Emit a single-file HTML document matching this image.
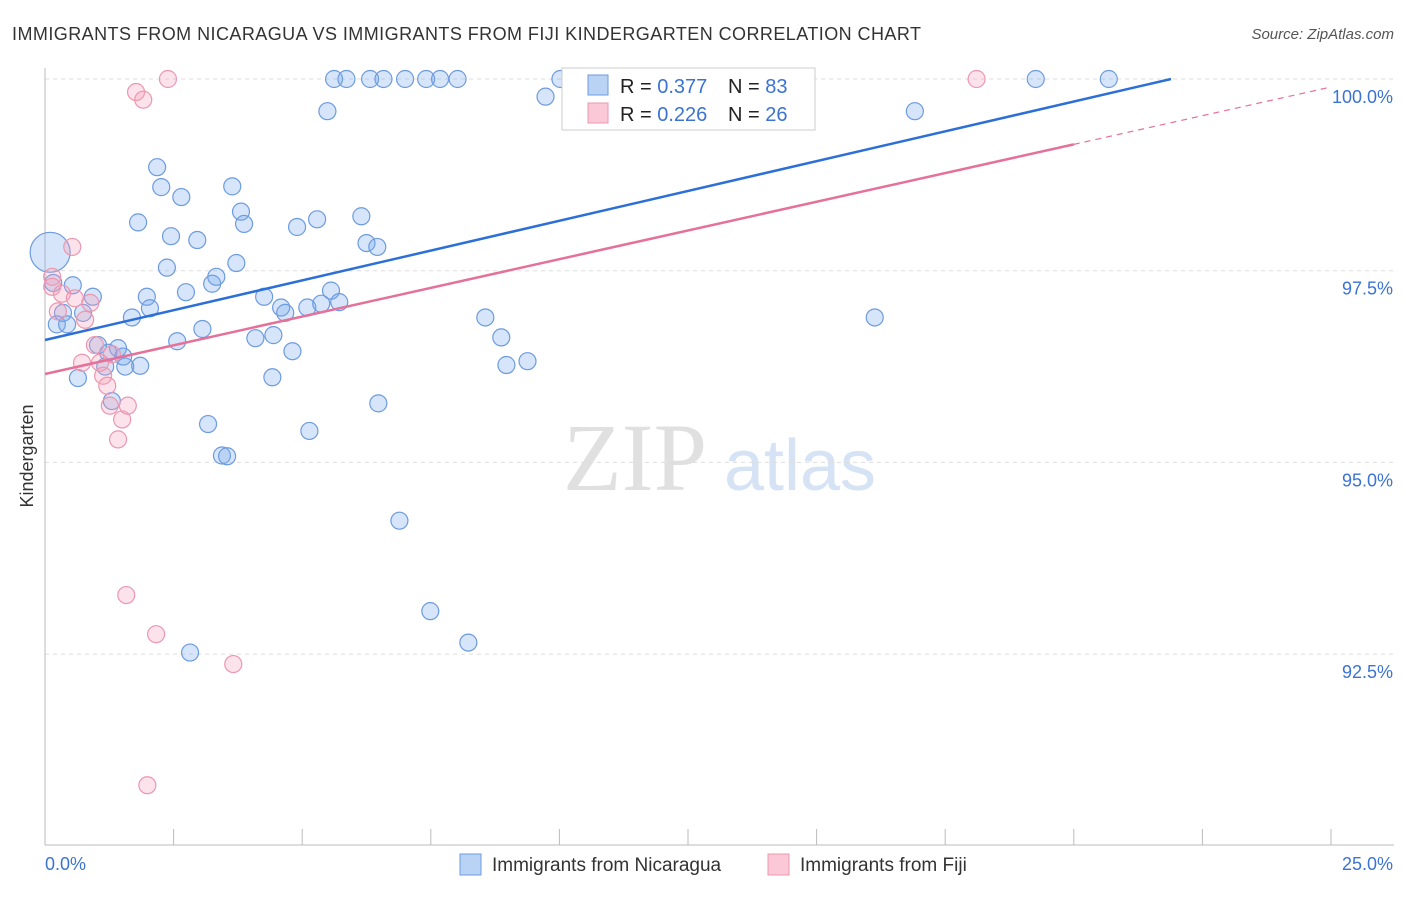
<!DOCTYPE html>
<html><head><meta charset="utf-8"><style>
body{margin:0;background:#fff;font-family:"Liberation Sans",sans-serif;}
svg text{font-family:"Liberation Sans",sans-serif;}
</style></head><body>
<svg id="c" width="1406" height="892" xmlns="http://www.w3.org/2000/svg">
<text x="12" y="40" font-size="18" fill="#333" textLength="909">IMMIGRANTS FROM NICARAGUA VS IMMIGRANTS FROM FIJI KINDERGARTEN CORRELATION CHART</text>
<text x="1394" y="39" font-size="15" fill="#555" text-anchor="end" font-style="italic">Source: ZipAtlas.com</text>
<text x="33" y="456" font-size="18" fill="#333" text-anchor="middle" transform="rotate(-90 33 456)">Kindergarten</text>
<g><text x="635" y="490" font-size="96" fill="#e0e0e0" text-anchor="middle" font-family="Liberation Serif" style="font-family:'Liberation Serif',serif">ZIP</text><text x="800" y="490" font-size="72" fill="#d6e3f5" text-anchor="middle">atlas</text></g>
<g id="grid"></g><g id="axes"></g><g id="pts"></g><g id="lines"></g>
<g>
<rect x="562" y="68" width="253" height="62" fill="#fff" stroke="#ccc"/>
<rect x="588" y="75" width="20" height="20" fill="#b9d3f5" stroke="#6d9be0"/>
<rect x="588" y="103" width="20" height="20" fill="#fac8d6" stroke="#ec97b0"/>
<text x="620" y="93" font-size="20" fill="#222">R = <tspan fill="#3b73d3">0.377</tspan><tspan x="728">N = </tspan><tspan fill="#3b73d3">83</tspan></text>
<text x="620" y="121" font-size="20" fill="#222">R = <tspan fill="#3b73d3">0.226</tspan><tspan x="728">N = </tspan><tspan fill="#3b73d3">26</tspan></text>
</g>
<g>
<rect x="460" y="854" width="21" height="21" fill="#b9d3f5" stroke="#6d9be0"/>
<text x="492" y="871" font-size="19" fill="#333">Immigrants from Nicaragua</text>
<rect x="768" y="854" width="21" height="21" fill="#fac8d6" stroke="#ec97b0"/>
<text x="800" y="871" font-size="19" fill="#333">Immigrants from Fiji</text>
</g>
</svg>
<script>
const yTicks=[100,97.5,95,92.5];
const yTickLabels=["100.0%","97.5%","95.0%","92.5%"];
const xTickLabels=["0.0%","25.0%"];
const blueX=[0.1,0.23,0.43,0.54,0.16,0.35,0.64,0.74,0.93,1.03,1.23,1.42,1.30,1.56,1.52,1.17,1.85,1.69,1.81,1.98,2.04,2.18,2.26,2.37,2.45,2.65,2.57,2.74,2.96,3.06,3.25,3.33,3.17,3.44,3.54,3.64,3.72,3.81,3.87,4.09,4.26,4.44,4.42,4.59,4.67,4.81,4.90,5.14,5.10,5.29,5.37,5.56,5.72,5.49,5.62,5.86,6.32,6.58,7.00,7.41,7.68,8.02,6.15,6.25,6.46,6.48,6.89,7.49,8.23,8.56,8.87,8.97,9.38,9.73,10.02,16.13,16.91,19.26,20.68,2.82,10.76,11.96];
const blueY=[97.74,96.80,96.80,97.31,97.34,96.95,96.10,96.95,97.16,96.53,96.43,96.49,95.80,96.25,96.38,96.25,96.26,96.89,98.13,97.16,97.01,98.85,98.59,97.54,97.95,98.46,96.58,97.22,97.90,96.74,97.33,97.42,95.50,95.09,95.08,98.60,97.60,98.27,98.11,96.62,97.16,96.66,96.11,97.02,96.95,96.45,98.07,95.41,97.02,98.17,97.07,97.24,97.09,99.58,100.0,100.0,100.0,100.0,100.0,100.0,100.0,100.0,98.21,97.86,97.81,95.77,94.24,93.06,92.65,96.89,96.63,96.27,96.32,99.77,100.0,96.89,99.58,100.0,100.0,92.52,100.0,100.0];
const pinkX=[0.14,0.14,0.25,0.33,0.53,0.58,0.72,0.78,0.88,0.97,1.07,1.13,1.21,1.26,1.30,1.42,1.50,1.61,1.58,1.77,1.91,2.16,2.39,3.66,1.99,18.11];
const pinkY=[97.42,97.29,96.97,97.20,97.81,97.14,96.30,96.86,97.08,96.53,96.30,96.13,96.00,95.74,96.41,95.30,95.56,95.74,93.27,99.83,99.73,92.76,100.0,92.37,90.79,100.0];
const blueFitY=[96.596,100.0]; const blueFitX=[0,21.89];
const pinkFitY=[96.153,99.896]; const pinkFitX=[0,25]; const pinkSolidEnd=20;
const NS="http://www.w3.org/2000/svg";
const X=v=>45+v*51.44, Y=v=>79+(100-v)*76.68;
function mk(t,a,p){const e=document.createElementNS(NS,t);for(const k in a)e.setAttribute(k,a[k]);document.getElementById(p).appendChild(e);return e;}
yTicks.forEach((t,i)=>{
 const g=mk('line',{x1:45,x2:1394,y1:Y(t),y2:Y(t),stroke:'#ddd','stroke-dasharray':'4,4'},'grid');
 
 
 const l=mk('text',{x:1393,y:Y(t)+24,'font-size':18,fill:'#3b73d3','text-anchor':'end'},'axes');
 l.textContent=yTickLabels[i];
 
 
});
mk('line',{x1:45,x2:45,y1:68,y2:845,stroke:'#bbb'},'axes');
mk('line',{x1:45,x2:1394,y1:845,y2:845,stroke:'#bbb'},'axes');
for(let i=0;i<=10;i++){mk('line',{x1:X(i*2.5),x2:X(i*2.5),y1:829,y2:845,stroke:'#bbb'},'axes');}
[[0,'start',45],[1,'end',1393]].forEach(([i,a,x])=>{const t=mk('text',{x:x,y:870,'font-size':18,fill:'#3b73d3','text-anchor':a},'axes');t.textContent=xTickLabels[i];
 
 });
blueX.forEach((v,i)=>{const c=mk('circle',{cx:X(v),cy:Y(blueY[i]),r:i==0?20:8.5,fill:'rgba(120,170,235,0.3)',stroke:'#6d9be0','stroke-width':1.2},'pts');
 
 });
pinkX.forEach((v,i)=>{const c=mk('circle',{cx:X(v),cy:Y(pinkY[i]),r:8.5,fill:'rgba(245,160,185,0.3)',stroke:'#ec97b0','stroke-width':1.2},'pts');
 
 });
const bl=mk('line',{x1:X(blueFitX[0]),y1:Y(blueFitY[0]),x2:X(blueFitX[1]),y2:Y(blueFitY[1]),stroke:'#2c6fd6','stroke-width':2.5},'lines');


const pf=x=>pinkFitY[0]+(pinkFitY[1]-pinkFitY[0])*(x-pinkFitX[0])/(pinkFitX[1]-pinkFitX[0]);
const pl=mk('line',{x1:X(0),y1:Y(pf(0)),x2:X(pinkSolidEnd),y2:Y(pf(pinkSolidEnd)),stroke:'#e5719a','stroke-width':2.5},'lines');


const pd=mk('line',{x1:X(pinkSolidEnd),y1:Y(pf(pinkSolidEnd)),x2:X(25),y2:Y(pf(25)),stroke:'#e5719a','stroke-width':1.2,'stroke-dasharray':'6,5'},'lines');


</script>
</body></html>
